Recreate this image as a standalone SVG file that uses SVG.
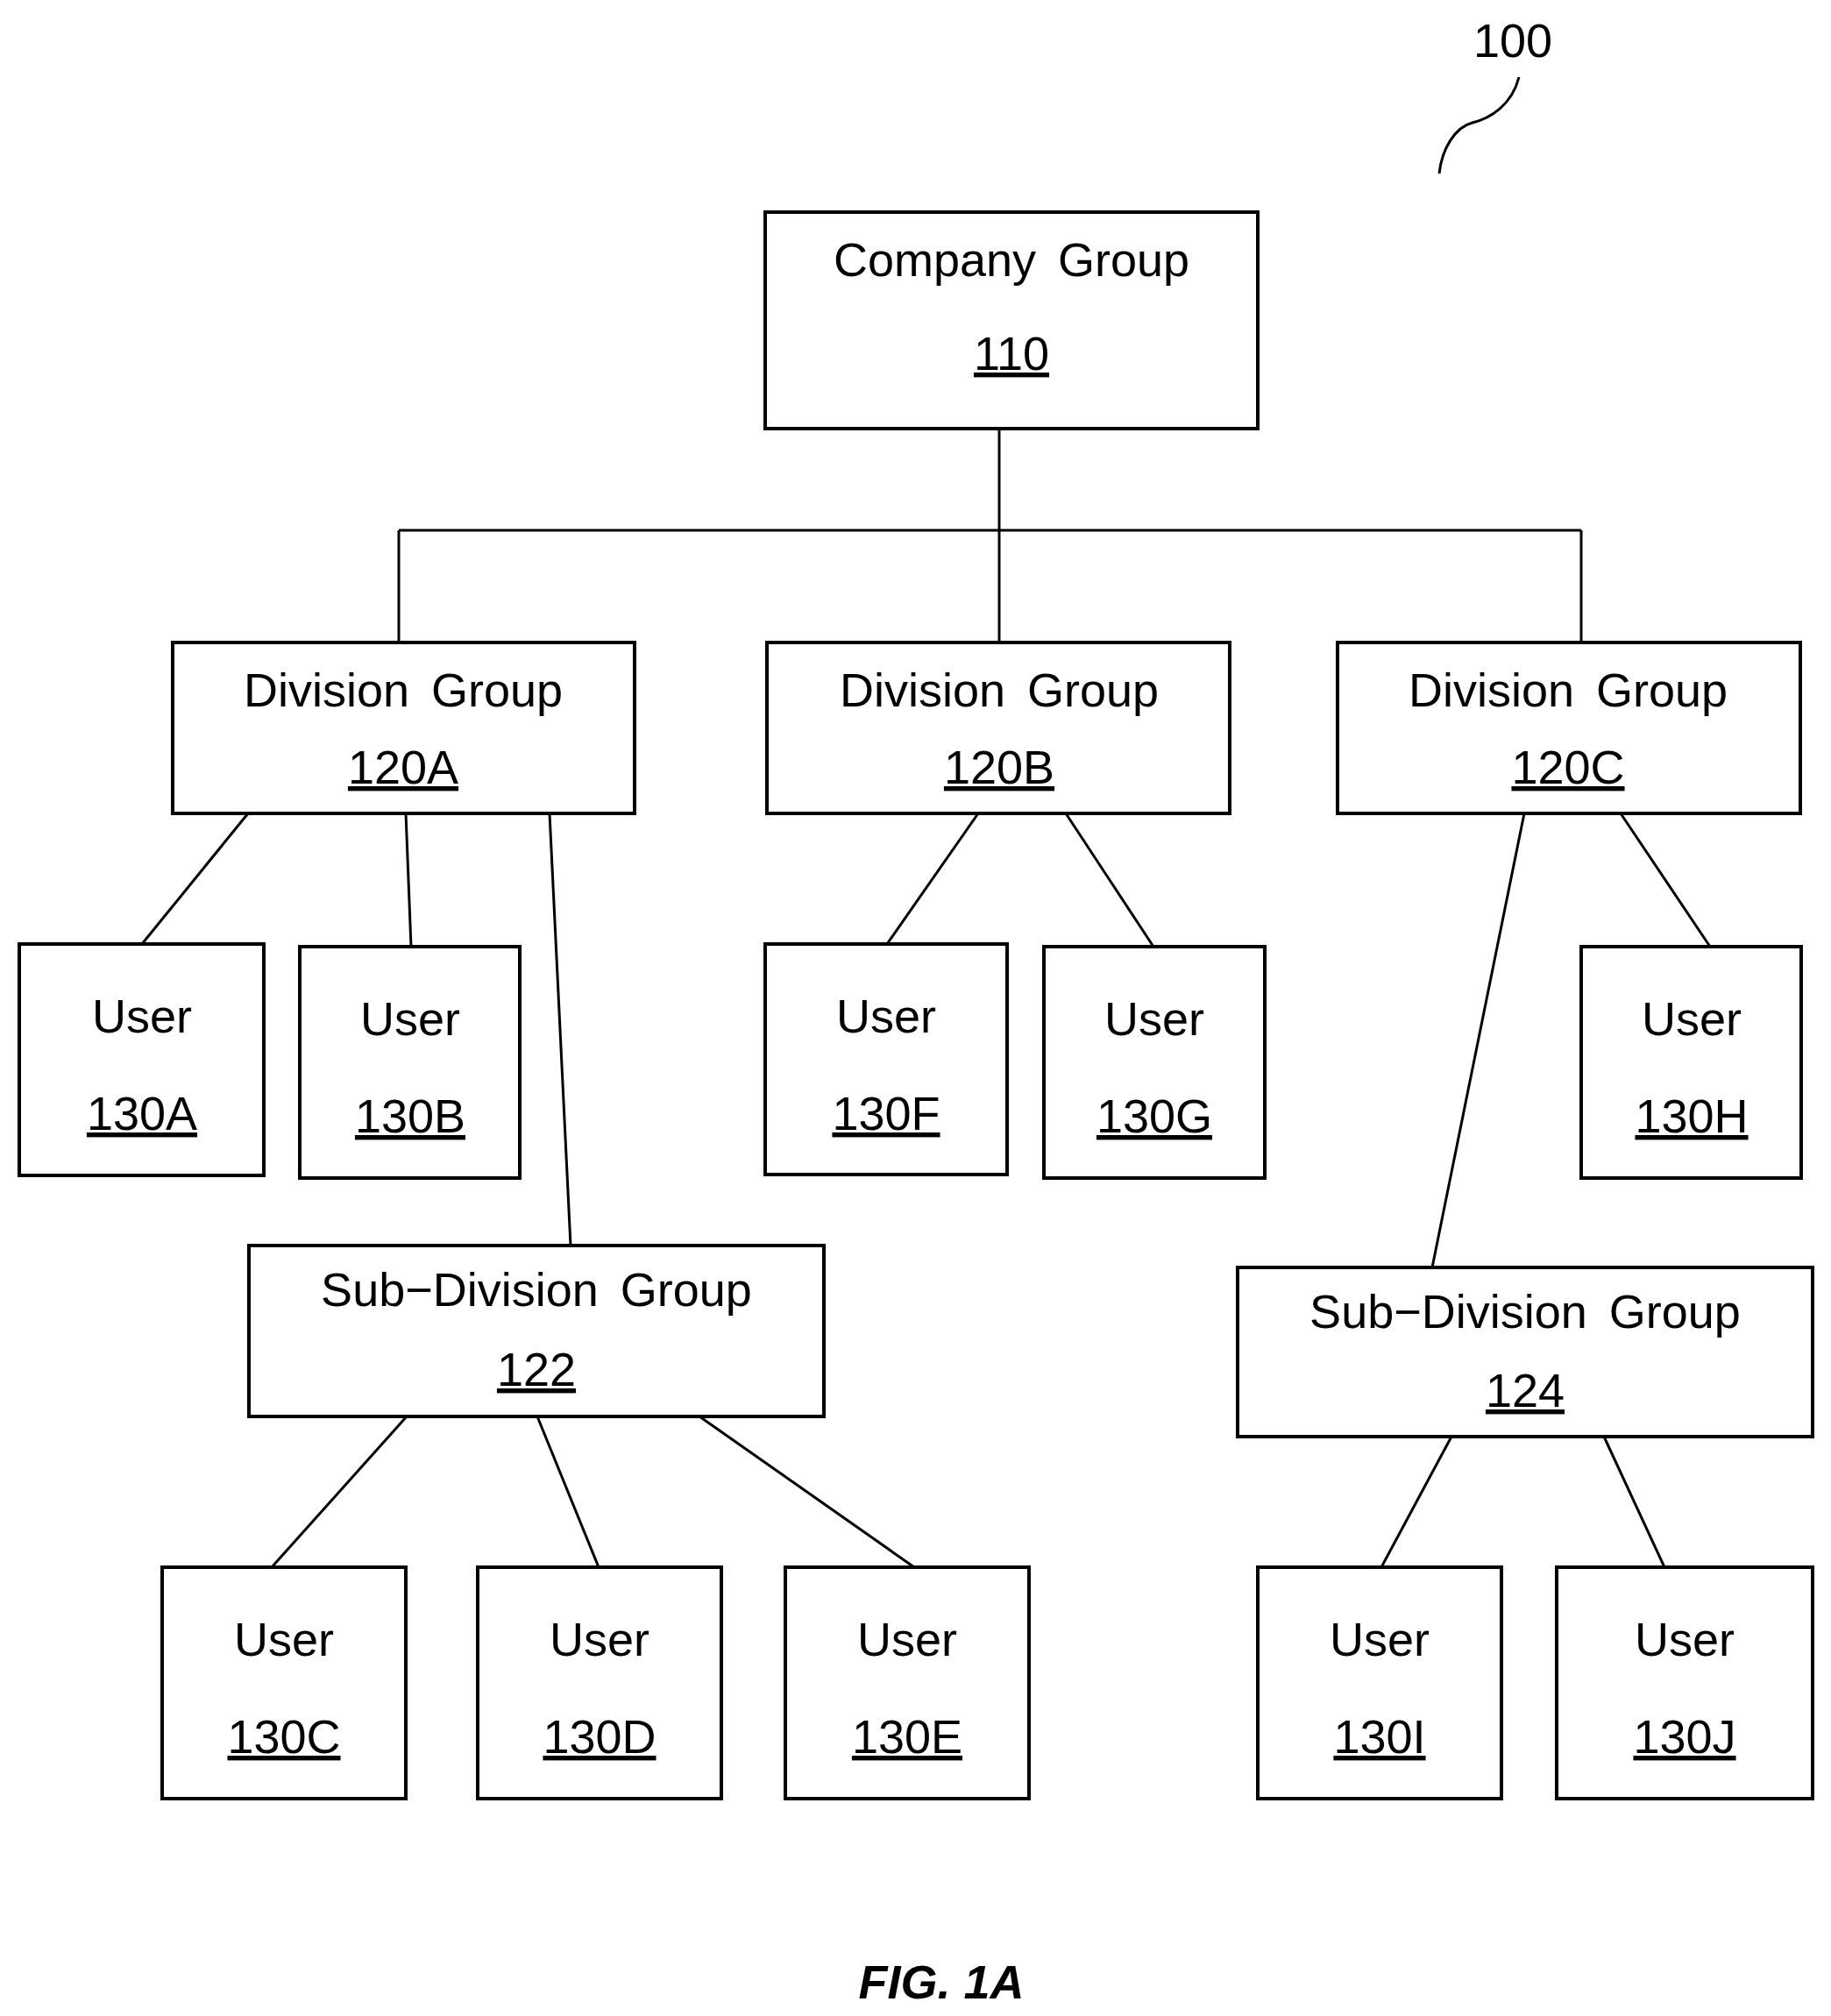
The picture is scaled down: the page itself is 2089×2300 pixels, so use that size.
<svg xmlns="http://www.w3.org/2000/svg" width="2089" height="2300" viewBox="0 0 2089 2300">
<style>
.b{fill:#fff;stroke:#000;stroke-width:4}
.t{font-family:"Liberation Sans",Arial,sans-serif;font-size:54px;text-anchor:middle;fill:#000;word-spacing:10px}
.u{text-decoration:underline}
.c line,.c path{stroke:#000;stroke-width:3;fill:none}
</style>
<rect width="2089" height="2300" fill="#fff"/>
<g class="c" id="connectors">
<line x1="1140" y1="489" x2="1140" y2="733"/>
<line x1="455" y1="605" x2="1804" y2="605"/>
<line x1="455" y1="605" x2="455" y2="733"/>
<line x1="1804" y1="605" x2="1804" y2="733"/>
<line x1="283" y1="928" x2="162" y2="1077"/>
<line x1="463" y1="928" x2="469" y2="1080"/>
<line x1="627" y1="928" x2="651" y2="1421"/>
<line x1="1116" y1="928" x2="1012" y2="1077"/>
<line x1="1216" y1="928" x2="1316" y2="1080"/>
<line x1="1739" y1="928" x2="1634" y2="1446"/>
<line x1="1849" y1="928" x2="1951" y2="1080"/>
<line x1="464" y1="1616" x2="310" y2="1788"/>
<line x1="613" y1="1616" x2="683" y2="1788"/>
<line x1="798" y1="1616" x2="1043" y2="1788"/>
<line x1="1656" y1="1639" x2="1576" y2="1788"/>
<line x1="1830" y1="1639" x2="1899" y2="1788"/>
<path d="M1733 88 C1725 120,1700 135,1680 140 C1660 145,1645 170,1642 198"/>
</g>
<text class="t" x="1726" y="65" style="word-spacing:0">100</text>
<g id="n110"><rect class="b" x="873" y="242" width="562" height="247"/><text class="t" x="1154" y="315">Company Group</text><text class="t u" x="1154" y="422">110</text></g>
<g id="n120A"><rect class="b" x="197" y="733" width="527" height="195"/><text class="t" x="460" y="806">Division Group</text><text class="t u" x="460" y="894">120A</text></g>
<g id="n120B"><rect class="b" x="875" y="733" width="528" height="195"/><text class="t" x="1140" y="806">Division Group</text><text class="t u" x="1140" y="894">120B</text></g>
<g id="n120C"><rect class="b" x="1526" y="733" width="528" height="195"/><text class="t" x="1789" y="806">Division Group</text><text class="t u" x="1789" y="894">120C</text></g>
<g id="n130A"><rect class="b" x="22" y="1077" width="279" height="264"/><text class="t" x="162" y="1178">User</text><text class="t u" x="162" y="1289">130A</text></g>
<g id="n130B"><rect class="b" x="342" y="1080" width="251" height="264"/><text class="t" x="468" y="1181">User</text><text class="t u" x="468" y="1292">130B</text></g>
<g id="n130F"><rect class="b" x="873" y="1077" width="276" height="263"/><text class="t" x="1011" y="1178">User</text><text class="t u" x="1011" y="1289">130F</text></g>
<g id="n130G"><rect class="b" x="1191" y="1080" width="252" height="264"/><text class="t" x="1317" y="1181">User</text><text class="t u" x="1317" y="1292">130G</text></g>
<g id="n130H"><rect class="b" x="1804" y="1080" width="251" height="264"/><text class="t" x="1930" y="1181">User</text><text class="t u" x="1930" y="1292">130H</text></g>
<g id="n122"><rect class="b" x="284" y="1421" width="656" height="195"/><text class="t" x="612" y="1490">Sub−Division Group</text><text class="t u" x="612" y="1581">122</text></g>
<g id="n124"><rect class="b" x="1412" y="1446" width="656" height="193"/><text class="t" x="1740" y="1515">Sub−Division Group</text><text class="t u" x="1740" y="1605">124</text></g>
<g id="n130C"><rect class="b" x="185" y="1788" width="278" height="264"/><text class="t" x="324" y="1889">User</text><text class="t u" x="324" y="2000">130C</text></g>
<g id="n130D"><rect class="b" x="545" y="1788" width="278" height="264"/><text class="t" x="684" y="1889">User</text><text class="t u" x="684" y="2000">130D</text></g>
<g id="n130E"><rect class="b" x="896" y="1788" width="278" height="264"/><text class="t" x="1035" y="1889">User</text><text class="t u" x="1035" y="2000">130E</text></g>
<g id="n130I"><rect class="b" x="1435" y="1788" width="278" height="264"/><text class="t" x="1574" y="1889">User</text><text class="t u" x="1574" y="2000">130I</text></g>
<g id="n130J"><rect class="b" x="1776" y="1788" width="292" height="264"/><text class="t" x="1922" y="1889">User</text><text class="t u" x="1922" y="2000">130J</text></g>
<text x="1074" y="2280" style="font-family:'Liberation Sans',Arial,sans-serif;font-size:54px;font-weight:bold;font-style:italic;text-anchor:middle">FIG. 1A</text>
</svg>
